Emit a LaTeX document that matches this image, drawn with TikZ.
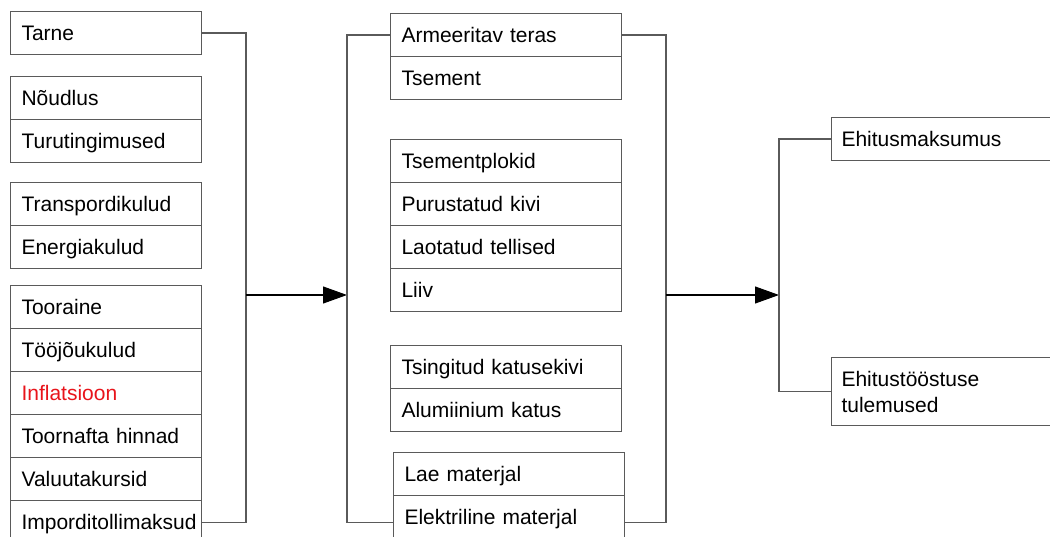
\documentclass[tikz,border=0pt]{standalone}
\usepackage{fontspec}
\setmainfont{Liberation Sans}
\usetikzlibrary{arrows.meta}
\definecolor{linegray}{HTML}{5A5A5A}
\definecolor{alertred}{HTML}{E8141B}
\begin{document}
\begin{tikzpicture}[x=1pt,y=-1pt,
  cell/.style={draw=linegray, line width=1.1pt, minimum height=43pt,
    inner xsep=11pt, inner ysep=0pt, text height=15pt, text depth=0pt,
    align=left, anchor=north west, font=\fontsize{21}{26}\selectfont},
  leftcell/.style={cell, text width=169pt},
  midcell/.style={cell, text width=209pt},
  outcell/.style={cell, inner xsep=10pt, text width=240pt},
  conn/.style={draw=linegray, line width=1.1pt},
  flow/.style={conn, -{Triangle[length=24pt,width=17pt]}, draw=black, fill=black}
]
\useasboundingbox (0,0) rectangle (1050,537);
\clip (0,0) rectangle (1050,537);

% left column
\node[leftcell] (tarne) at (10,11) {Tarne};
\node[leftcell] (noud) at (10,76) {Nõudlus};
\node[leftcell] (turu) at (10,119) {Turutingimused};
\node[leftcell] (trans) at (10,182) {Transpordikulud};
\node[leftcell] (ener) at (10,225) {Energiakulud};
\node[leftcell] (toor) at (10,285) {Tooraine};
\node[leftcell] (tooj) at (10,328) {Tööjõukulud};
\node[leftcell, text=alertred] (infl) at (10,371) {Inflatsioon};
\node[leftcell] (toorn) at (10,414) {Toornafta hinnad};
\node[leftcell] (valu) at (10,457) {Valuutakursid};
\node[leftcell] (impo) at (10,500) {\mbox{Imporditollimaksud}};

% middle column
\node[midcell] (arm) at (390,13) {Armeeritav teras};
\node[midcell] (tsem) at (390,56) {Tsement};
\node[midcell] (plok) at (390,139) {Tsementplokid};
\node[midcell] (puru) at (390,182) {Purustatud kivi};
\node[midcell] (laot) at (390,225) {Laotatud tellised};
\node[midcell] (liiv) at (390,268) {Liiv};
\node[midcell] (tsin) at (390,345) {Tsingitud katusekivi};
\node[midcell] (alum) at (390,388) {Alumiinium katus};
\node[midcell] (lae) at (393,452) {Lae materjal};
\node[midcell] (elek) at (393,495) {Elektriline materjal};

% right column
\node[outcell] (ehm) at (831,117) {Ehitusmaksumus};
\node[outcell, minimum height=68pt, text depth=26pt] (eht) at (831,357) {Ehitustööstuse\\tulemused};

% junction points
\coordinate (j1) at (246,295);
\coordinate (m1) at (347,295);
\coordinate (j2) at (666,295);
\coordinate (m2) at (779,295);

% connectors
\draw[conn] (tarne.east) -| (j1) |- (impo.east);
\draw[flow] (j1) -- (m1);
\draw[conn] (arm.west) -| (m1) |- ([yshift=-5pt]elek.west);
\draw[conn] (arm.east) -| (j2) |- ([yshift=-5pt]elek.east);
\draw[flow] (j2) -- (m2);
\draw[conn] (ehm.west) -| (m2) |- (eht.west);
\end{tikzpicture}
\end{document}
